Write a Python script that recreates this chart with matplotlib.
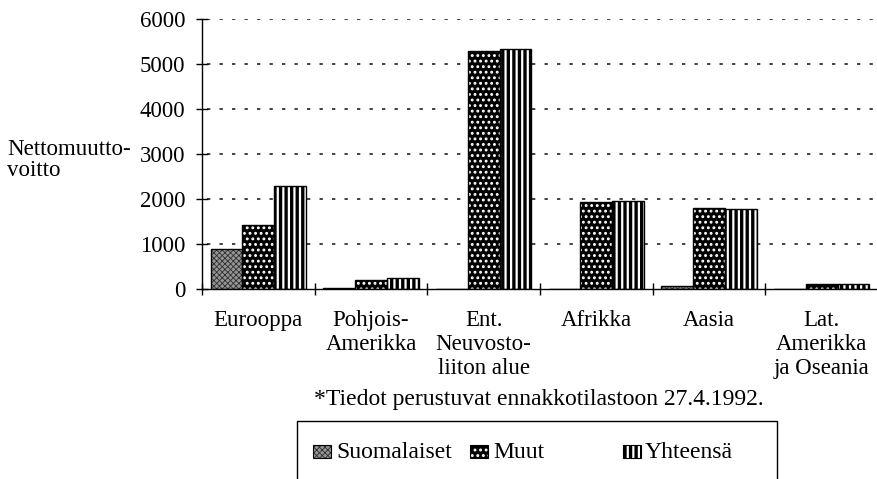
import matplotlib
matplotlib.use("Agg")
import matplotlib.pyplot as plt
import numpy as np
from matplotlib.patches import Rectangle

categories = ["Eurooppa", "Pohjois-\nAmerikka", "Ent.\nNeuvosto-\nliiton alue",
              "Afrikka", "Aasia", "Lat.\nAmerikka\nja Oseania"]
suomalaiset = [900, 15, 10, 5, 60, 5]
muut = [1420, 200, 5300, 1930, 1800, 110]
yhteensa = [2300, 240, 5330, 1950, 1770, 110]
series_names = ["Suomalaiset", "Muut", "Yhteensä"]
yticks = [0, 1000, 2000, 3000, 4000, 5000, 6000]

plt.rcParams['font.family'] = ['Liberation Serif', 'DejaVu Serif']
FS = 16.5

fig = plt.figure(figsize=(8.78, 4.79), dpi=100)
ax = fig.add_axes([202/878, 1-289/479, 1-202/878, (289-19)/479])

x = np.arange(len(categories))
w = 0.283

styles = [
    dict(facecolor='#959595', edgecolor='#2e2e2e', hatch='xxxxxx', hlw=0.6),
    dict(facecolor='black', edgecolor='white', hatch='...', hlw=1.3),
    dict(facecolor='white', edgecolor='black', hatch='|||', hlw=2.4),
]

def hatched_bar(xs, vals, st, zorder=2):
    with plt.rc_context({'hatch.linewidth': st['hlw']}):
        bars = ax.bar(xs, vals, w, facecolor=st['facecolor'], edgecolor=st['edgecolor'],
                      hatch=st['hatch'], linewidth=0, zorder=zorder)
        for b in bars:
            if hasattr(b, 'set_hatch_linewidth'):
                b.set_hatch_linewidth(st['hlw'])
    ax.bar(xs, vals, w, fill=False, edgecolor='black', linewidth=1.0, zorder=zorder+0.1)

for i, vals in enumerate([suomalaiset, muut, yhteensa]):
    hatched_bar(x + (i-1)*w, vals, styles[i])

ax.set_xlim(-0.5, len(categories)-0.5)
ax.set_ylim(0, 6000)
ax.set_yticks(yticks)
ax.set_yticklabels([str(v) for v in yticks], fontsize=FS)
ax.set_xticks(x)
ax.set_xticklabels(categories, fontsize=FS, linespacing=1.2, va='top')
ax.set_xticks(np.arange(len(categories)+1)-0.5, minor=True)
ax.tick_params(axis='x', which='major', length=0, pad=15)
ax.tick_params(axis='x', which='minor', direction='inout', length=8, width=1)
ax.tick_params(axis='y', direction='inout', length=8, width=1, pad=8)

for s in ['top', 'right']:
    ax.spines[s].set_visible(False)
ax.spines['left'].set_linewidth(1.0)
ax.spines['bottom'].set_linewidth(1.0)

ax.set_axisbelow(True)
for v in yticks[1:]:
    ax.axhline(v, xmin=0.008, color='#222222', linewidth=1.2,
               linestyle=(0, (2, 5.5)), zorder=0.5)

fig.text(7/878, 1-160/479, "Nettomuutto-\nvoitto", fontsize=FS, ha='left', va='center',
         linespacing=1.0)

fig.text(539/878, 1-400/479, "*Tiedot perustuvat ennakkotilastoon 27.4.1992.",
         fontsize=17, ha='center', va='center')

# legend box
box = Rectangle((297/878, 1-500/479), (777-297)/878, 79/479, transform=fig.transFigure,
                fill=False, edgecolor='black', linewidth=1.0)
fig.patches.append(box)
leg_items = [(313, 336), (470, 493), (623, 645)]
for (px, tx), name, st in zip(leg_items, series_names, styles):
    with plt.rc_context({'hatch.linewidth': st['hlw']}):
        r = Rectangle((px/878, 1-458/479), 18/878, 13/479, transform=fig.transFigure,
                      facecolor=st['facecolor'], edgecolor=st['edgecolor'],
                      hatch=st['hatch'], linewidth=0)
        if hasattr(r, 'set_hatch_linewidth'):
            r.set_hatch_linewidth(st['hlw'])
    fig.patches.append(r)
    fig.patches.append(Rectangle((px/878, 1-458/479), 18/878, 13/479,
                                 transform=fig.transFigure, fill=False,
                                 edgecolor='black', linewidth=0.8))
    fig.text(tx/878, 1-452/479, name, fontsize=17, ha='left', va='center')

fig.savefig("out.png", dpi=100)
